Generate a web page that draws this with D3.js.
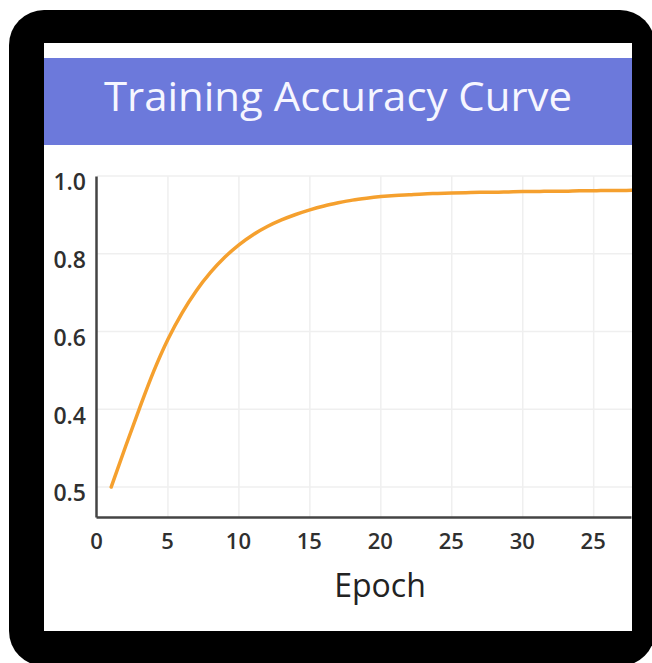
<html>
<head>
<style>
  body { margin: 0; background: #fff; }
  text { font-family: 'Open Sans', sans-serif; }
</style>
</head>
<body>
  <div id='chart'></div>
  <script src='https://cdn.jsdelivr.net/npm/d3@7'></script>
  <script>
    // data
    var epochs = [1,2,3,4,5,6,7,8,9,10,11,12,13,14,15,16,17,18,19,20,21,22,23,24,25,26,27,28,29,30,31,32,33,34,35,36,37,38];
    var accuracy = [0.200,0.303,0.403,0.498,0.580,0.648,0.705,0.752,0.791,0.823,0.849,0.870,0.887,0.901,0.913,0.923,0.931,0.938,0.943,0.947,0.950,0.952,0.954,0.955,0.956,0.957,0.958,0.958,0.959,0.960,0.960,0.961,0.961,0.962,0.962,0.963,0.963,0.964];
    var xTickVals = [0,5,10,15,20,25,30,35];
    var xTickLabels = ['0','5','10','15','20','25','30','25'];
    var yTickVals = [1.0,0.8,0.6,0.4,0.2];
    var yTickLabels = ['1.0','0.8','0.6','0.4','0.5'];
    var titleText = 'Training Accuracy Curve';
    var xTitle = 'Epoch';

    var width = 652, height = 663;
    var panel = {left: 44, top: 43, right: 632, bottom: 631};
    var plotLeft = 97, plotRight = 632, plotTop = 176, plotBottom = 517;

    var svg = d3.select('#chart').append('svg')
      .attr('width', width)
      .attr('height', height);

    // black rounded frame + white panel
    svg.append('rect')
      .attr('x', 9).attr('y', 10)
      .attr('width', 646).attr('height', 656)
      .attr('rx', 35).attr('ry', 35)
      .attr('fill', '#000');
    svg.append('rect')
      .attr('x', panel.left).attr('y', panel.top)
      .attr('width', panel.right - panel.left)
      .attr('height', panel.bottom - panel.top)
      .attr('fill', '#fff');

    // title bar
    svg.append('rect')
      .attr('x', panel.left).attr('y', 58)
      .attr('width', panel.right - panel.left).attr('height', 87)
      .attr('fill', '#6c79db');
    svg.append('text')
      .attr('x', (panel.left + panel.right) / 2)
      .attr('y', 111)
      .attr('text-anchor', 'middle')
      .attr('fill', '#f6f6ff')
      .attr('font-size', 40)
      .attr('font-weight', 500)
      .attr('textLength', 468)
      .attr('lengthAdjust', 'spacingAndGlyphs')
      .text(titleText);

    var x = d3.scaleLinear().domain([0, 37.7]).range([plotLeft, plotRight]);
    var y = d3.scaleLinear().domain([0.123, 1.0]).range([plotBottom, plotTop]);

    // grid
    var grid = svg.append('g').attr('stroke', '#efefef').attr('stroke-width', 1.5);
    grid.selectAll('.hg')
      .data(yTickVals)
      .enter()
      .append('line')
      .attr('x1', plotLeft).attr('x2', plotRight)
      .attr('y1', function(d){ return y(d); })
      .attr('y2', function(d){ return y(d); });
    grid.selectAll('.vg')
      .data(xTickVals.slice(1))
      .enter()
      .append('line')
      .attr('y1', plotTop).attr('y2', plotBottom)
      .attr('x1', function(d){ return x(d); })
      .attr('x2', function(d){ return x(d); });

    // curve
    svg.append('clipPath').attr('id', 'clip')
      .append('rect')
      .attr('x', plotLeft).attr('y', plotTop - 10)
      .attr('width', plotRight - plotLeft).attr('height', plotBottom - plotTop + 10);
    var line = d3.line()
      .x(function(d, i){ return x(epochs[i]); })
      .y(function(d){ return y(d); })
      .curve(d3.curveMonotoneX);
    svg.append('path')
      .datum(accuracy)
      .attr('clip-path', 'url(#clip)')
      .attr('d', line)
      .attr('fill', 'none')
      .attr('stroke', '#f5a02e')
      .attr('stroke-width', 3.5)
      .attr('stroke-linecap', 'round');

    // axes
    var yAxis = svg.append('g')
      .attr('transform', 'translate(' + (plotLeft - 1) + ',0)')
      .call(d3.axisLeft(y).tickValues(yTickVals)
        .tickFormat(function(d, i){ return yTickLabels[i]; })
        .tickSize(0).tickPadding(10));
    var xAxis = svg.append('g')
      .attr('transform', 'translate(-1,' + plotBottom + ')')
      .call(d3.axisBottom(x).tickValues(xTickVals)
        .tickFormat(function(d, i){ return xTickLabels[i]; })
        .tickSize(0).tickPadding(16));

    svg.selectAll('.domain')
      .attr('stroke', '#444')
      .attr('stroke-width', 2.5);
    yAxis.selectAll('text')
      .attr('dy', '0.6em')
      .attr('font-size', 23)
      .attr('font-weight', 600)
      .attr('fill', '#2f2f2f')
      .attr('font-family', "'Open Sans', sans-serif");
    xAxis.selectAll('text')
      .attr('font-size', 22)
      .attr('font-weight', 600)
      .attr('fill', '#2f2f2f')
      .attr('font-family', "'Open Sans', sans-serif");

    svg.append('text')
      .attr('x', 380)
      .attr('y', 597)
      .attr('text-anchor', 'middle')
      .attr('font-size', 32)
      .attr('font-weight', 500)
      .attr('fill', '#222')
      .text(xTitle);
  </script>
</body>
</html>
